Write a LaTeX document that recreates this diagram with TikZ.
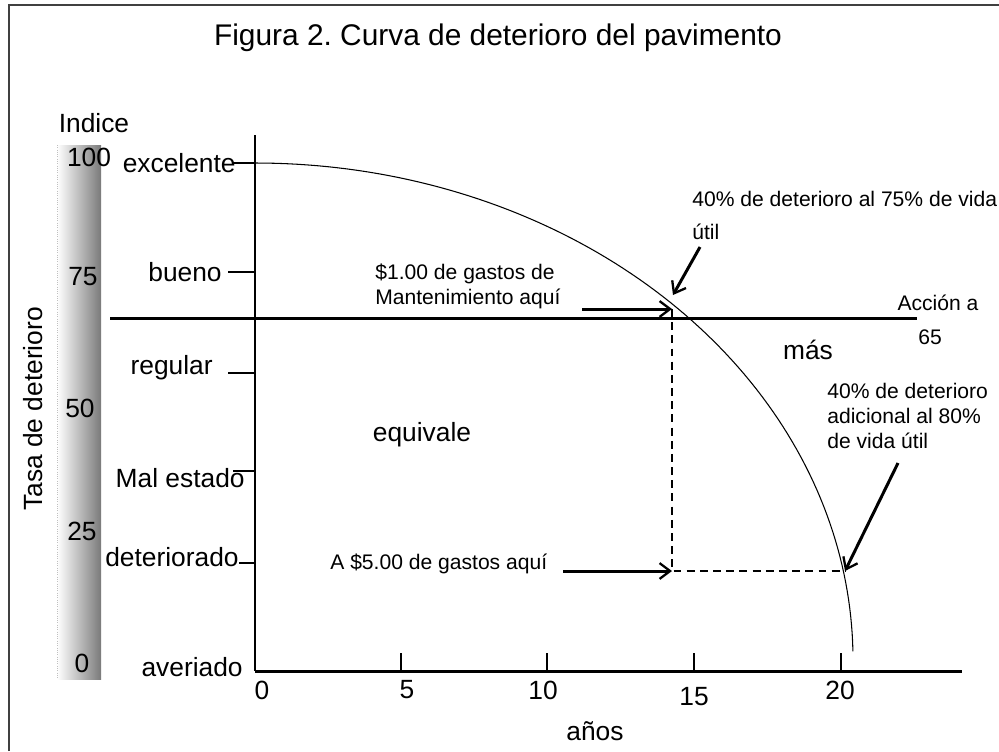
\documentclass[tikz,border=0pt]{standalone}
\usepackage{fontspec}
\setmainfont{Liberation Sans}
\usetikzlibrary{arrows.meta}
\frenchspacing

\begin{document}
\begin{tikzpicture}[x=0.02cm, y=-0.02cm,
	lbl/.style = {font=\fontsize{15}{18}\selectfont, inner sep=0pt},
	note/.style = {font=\fontsize{12}{14.2}\selectfont, inner sep=0pt, align=left},
	tic/.style = {line width=0.6pt},
	arr/.style = {line width=1.7pt,
		-{Straight Barb[length=6pt, width=9pt, line width=1.3pt]}}]

	\useasboundingbox (0,0) rectangle (999,751);
	\draw[line width=1.2pt, black!75] (9,751) -- (9,5) -- (999,5);

	\node[font=\fontsize{17}{20}\selectfont] (title) at (498,38) {Figura 2. Curva de deterioro del pavimento};

	\shade[left color=white, middle color=black!16, right color=black!52] (57,145) rectangle (101,679);
	\draw[densely dotted, black!25, line width=0.3pt] (57,145) -- (57,679);

	\node[lbl] (indice) at (94,123) {Indice};
	\node[lbl] (i100) at (89,157) {100};
	\node[lbl] (i75) at (83,277) {75};
	\node[lbl] (i50) at (80,408) {50};
	\node[lbl] (i25) at (82,531) {25};
	\node[lbl] (i0) at (82,663) {0};
	\node[lbl, rotate=90] (tasa) at (33,409) {Tasa de deterioro};

	\coordinate (O) at (255,671);
	\coordinate (ytop) at (255,135);
	\coordinate (xend) at (962,671);
	\draw[line width=0.7pt] (ytop) -- (O);
	\draw[line width=1.7pt] (O) -- (xend);

	\draw[tic] (401,671) -- (401,653);
	\draw[tic] (547,671) -- (547,653);
	\draw[tic] (694,671) -- (694,653);
	\draw[tic] (841,671) -- (841,653);
	\node[lbl] (x0) at (262,690) {0};
	\node[lbl] (x5) at (407,690) {5};
	\node[lbl] (x10) at (543,690) {10};
	\node[lbl] (x15) at (694,697) {15};
	\node[lbl] (x20) at (840,690) {20};
	\node[lbl] (anos) at (595,731) {años};

	\node[lbl, anchor=east] (exc) at (236,163) {excelente};
	\node[lbl, anchor=east] (bue) at (222,272) {bueno};
	\node[lbl, anchor=east] (reg) at (213,368) {regular};
	\node[lbl, anchor=east] (mal) at (245,478) {Mal estado};
	\node[lbl, anchor=east] (det) at (239,557) {deteriorado};
	\node[lbl, anchor=east] (ave) at (243,667) {averiado};
	\draw[tic] (233,163) -- (255,163);
	\draw[tic] (228,272) -- (255,272);
	\draw[tic] (228,373) -- (255,373);
	\draw[tic] (233,471) -- (255,471);
	\draw[tic] (239,563) -- (255,563);

	\draw[line width=0.6pt] plot[domain=-90:-1, samples=90] ({255+598*cos(\x)}, {660+497*sin(\x)});

	\coordinate (h1) at (110,318);
	\coordinate (h2) at (917,318);
	\draw[line width=1.7pt] (h1) -- (h2);
	\node[note] (accion) at (938,303) {Acción a};
	\node[note] (sesenta) at (930,337) {65};

	\coordinate (q1) at (672,309);
	\coordinate (q2) at (672,571);
	\coordinate (q3) at (845,571);
	\draw[line width=0.9pt, dash pattern=on 4.5pt off 3pt] (q1) -- (q2) -- (q3);

	\coordinate (m1) at (582,309);
	\coordinate (m2) at (563,571);
	\coordinate (d1) at (700,247);
	\coordinate (d1e) at (673,295);
	\coordinate (d2) at (898,463);
	\draw[arr] (m1) -- (q1);
	\draw[arr] (m2) -- (q2);
	\draw[arr] (d1) -- (d1e);
	\draw[arr] (d2) -- (q3);

	\node[note, anchor=north west] (gasto1) at (375,264) {\$1.00 de gastos de\\Mantenimiento aquí};
	\node[note, anchor=west] (gasto5) at (330,564) {A \$5.00 de gastos aquí};
	\node[note, anchor=north west, font=\fontsize{12}{18.8}\selectfont] (vida75) at (692,191) {40\% de deterioro al 75\% de vida\\útil};
	\node[note, anchor=north west] (vida80) at (827,383) {40\% de deterioro\\adicional al 80\%\\de vida útil};

	\node[lbl] (equiv) at (422,435) {equivale};
	\node[lbl] (mas) at (808,350) {más};

\end{tikzpicture}
\end{document}
